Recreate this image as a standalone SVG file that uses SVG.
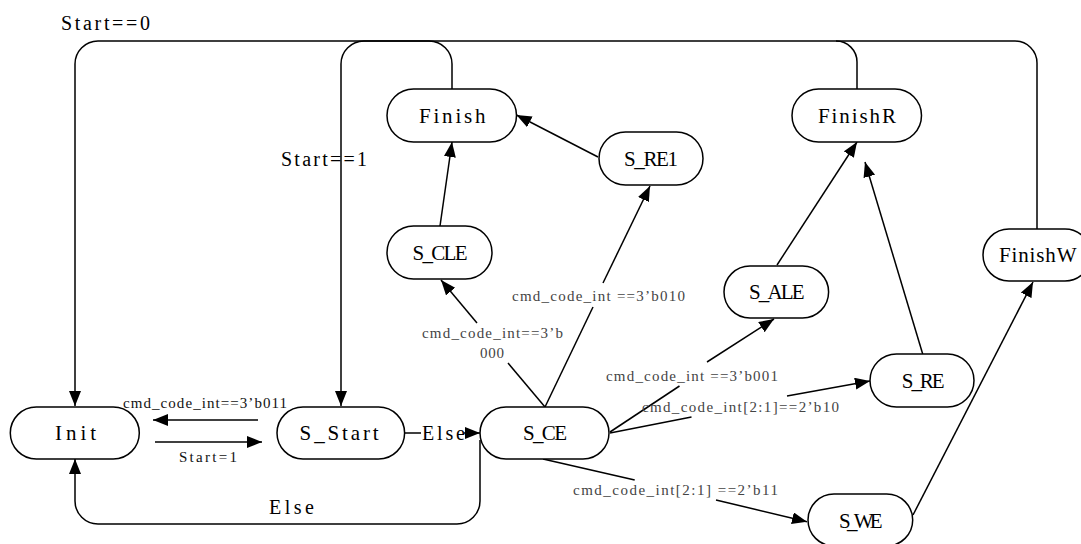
<svg xmlns="http://www.w3.org/2000/svg" width="1081" height="544" viewBox="0 0 1081 544">
  <style>
    .node { fill: #fff; stroke: #000; stroke-width: 1.5; }
    .lbl { font-family: "Liberation Serif", "Noto Sans CJK SC", serif; font-size: 21px; fill: #000; }
    .big { font-family: "Liberation Serif", "Noto Sans CJK SC", serif; font-size: 20px; fill: #000; }
    .cond { font-family: "Liberation Serif", "Noto Sans CJK SC", serif; font-size: 15px; fill: #444; }
    .condk { font-family: "Liberation Serif", "Noto Sans CJK SC", serif; font-size: 15px; fill: #111; }
    .edge { fill: none; stroke: #000; stroke-width: 1.5; }
    .arr { marker-end: url(#head); }
  </style>
  <defs>
    <marker id="head" markerUnits="userSpaceOnUse" markerWidth="16" markerHeight="13" refX="15" refY="6" orient="auto">
      <path d="M0,0 L15,6 L0,12 z" fill="#000"/>
    </marker>
  </defs>
  <rect width="1081" height="544" fill="#fff"/>

  <g id="connectors">
    <!-- FinishW / FinishR back to Init (Start==0) -->
    <path class="edge arr" d="M1037,229 V63 A22,22 0 0 0 1015,41 H98 A23,23 0 0 0 75,64 V406"/>
    <path class="edge" d="M857,89 V62 A21,21 0 0 0 836,41"/>
    <!-- Finish back to S_Start (Start==1) -->
    <path class="edge arr" d="M452,89 V64 A23,23 0 0 0 429,41 H364 A23,23 0 0 0 341,64 V406"/>
    <!-- Init <-> S_Start -->
    <path class="edge arr" d="M155,442 H262"/>
    <path class="edge arr" d="M258,420 H153"/>
    <!-- S_Start -> S_CE (Else) -->
    <path class="edge" d="M404.6,433 H421"/>
    <path class="edge arr" d="M464,433 H480"/>
    <!-- S_CE -> Init (Else) -->
    <path class="edge arr" d="M480,440 V501 A23,23 0 0 1 457,524 H98 A23,23 0 0 1 75,501 V459"/>
    <!-- S_CE -> S_CLE -->
    <path class="edge" d="M545,407 L508,363"/>
    <path class="edge arr" d="M477,323 L441,280"/>
    <!-- S_CE -> S_RE1 -->
    <path class="edge" d="M545,407 L593,307"/>
    <path class="edge arr" d="M603,283 L650,186"/>
    <!-- S_CLE -> Finish -->
    <path class="edge arr" d="M440,226 L452,142"/>
    <!-- S_RE1 -> Finish -->
    <path class="edge arr" d="M598,157 L516.5,115"/>
    <!-- S_CE -> S_ALE -->
    <path class="edge" d="M610,432 L679.5,386"/>
    <path class="edge arr" d="M707,362 L774,319"/>
    <!-- S_ALE -> FinishR -->
    <path class="edge arr" d="M777,265 L857,142"/>
    <!-- S_CE -> S_RE -->
    <path class="edge" d="M610,433 L691.5,417"/>
    <path class="edge arr" d="M787,396 L870,381"/>
    <!-- S_RE -> FinishR -->
    <path class="edge arr" d="M922.7,354 L865,162"/>
    <!-- S_CE -> S_WE -->
    <path class="edge" d="M543,459 L634.7,480"/>
    <path class="edge arr" d="M716,500 L807,521.7"/>
    <!-- S_WE -> FinishW -->
    <path class="edge arr" d="M913,515 L1033,282"/>
  </g>

  <g id="edge-labels">
    <text class="big" x="61" y="30" textLength="89" lengthAdjust="spacing">Start==0</text>
    <text class="big" x="281" y="166" textLength="86" lengthAdjust="spacing">Start==1</text>
    <text class="condk" x="123" y="408" textLength="164" lengthAdjust="spacing">cmd_code_int==3’b011</text>
    <text class="condk" x="179" y="461.5" textLength="58" lengthAdjust="spacing">Start=1</text>
    <text class="big" x="422" y="440" textLength="43" lengthAdjust="spacing">Else</text>
    <text class="big" x="269" y="514" textLength="45" lengthAdjust="spacing">Else</text>
    <text class="cond" x="422" y="338" textLength="141" lengthAdjust="spacing">cmd_code_int==3’b</text>
    <text class="cond" x="480" y="358" textLength="24" lengthAdjust="spacing">000</text>
    <text class="cond" x="512" y="301" textLength="173" lengthAdjust="spacing">cmd_code_int ==3’b010</text>
    <text class="cond" x="606" y="380.5" textLength="172" lengthAdjust="spacing">cmd_code_int ==3’b001</text>
    <text class="cond" x="642" y="411.5" textLength="197" lengthAdjust="spacing">cmd_code_int[2:1]==2’b10</text>
    <text class="cond" x="573" y="495" textLength="205" lengthAdjust="spacing">cmd_code_int[2:1] ==2’b11</text>
  </g>

  <g id="Init">
    <rect class="node" x="10.3" y="407" width="129" height="52" rx="26"/>
    <text class="lbl" x="55" y="440" textLength="41" lengthAdjust="spacing">Init</text>
  </g>
  <g id="S_Start">
    <rect class="node" x="277" y="407" width="127.6" height="52" rx="26"/>
    <text class="lbl" x="299.6" y="440" textLength="79" lengthAdjust="spacing">S_Start</text>
  </g>
  <g id="S_CE">
    <rect class="node" x="480" y="407" width="129" height="52" rx="26"/>
    <text class="lbl" x="523" y="440" textLength="44" lengthAdjust="spacing">S_CE</text>
  </g>
  <g id="Finish">
    <rect class="node" x="387" y="89" width="129.5" height="53" rx="26.5"/>
    <text class="lbl" x="419" y="123" textLength="66.5" lengthAdjust="spacing">Finish</text>
  </g>
  <g id="FinishR">
    <rect class="node" x="792" y="89" width="129.5" height="53" rx="26.5"/>
    <text class="lbl" x="818" y="123" textLength="78" lengthAdjust="spacing">FinishR</text>
  </g>
  <g id="S_RE1">
    <rect class="node" x="599" y="132" width="104" height="53" rx="26.5"/>
    <text class="lbl" x="624" y="166" textLength="54" lengthAdjust="spacing">S_RE1</text>
  </g>
  <g id="S_CLE">
    <rect class="node" x="387" y="226" width="105" height="53" rx="26.5"/>
    <text class="lbl" x="412.5" y="260" textLength="55" lengthAdjust="spacing">S_CLE</text>
  </g>
  <g id="S_ALE">
    <rect class="node" x="724" y="266" width="104.6" height="52" rx="26"/>
    <text class="lbl" x="749" y="299" textLength="55.5" lengthAdjust="spacing">S_ALE</text>
  </g>
  <g id="FinishW">
    <rect class="node" x="983" y="229" width="108" height="52" rx="26"/>
    <text class="lbl" x="999" y="262" textLength="77.5" lengthAdjust="spacing">FinishW</text>
  </g>
  <g id="S_RE">
    <rect class="node" x="870" y="354" width="104" height="53" rx="26.5"/>
    <text class="lbl" x="901.7" y="388" textLength="43" lengthAdjust="spacing">S_RE</text>
  </g>
  <g id="S_WE">
    <rect class="node" x="808" y="494" width="104.7" height="52" rx="26"/>
    <text class="lbl" x="839" y="528" textLength="43.7" lengthAdjust="spacing">S_WE</text>
  </g>
</svg>
